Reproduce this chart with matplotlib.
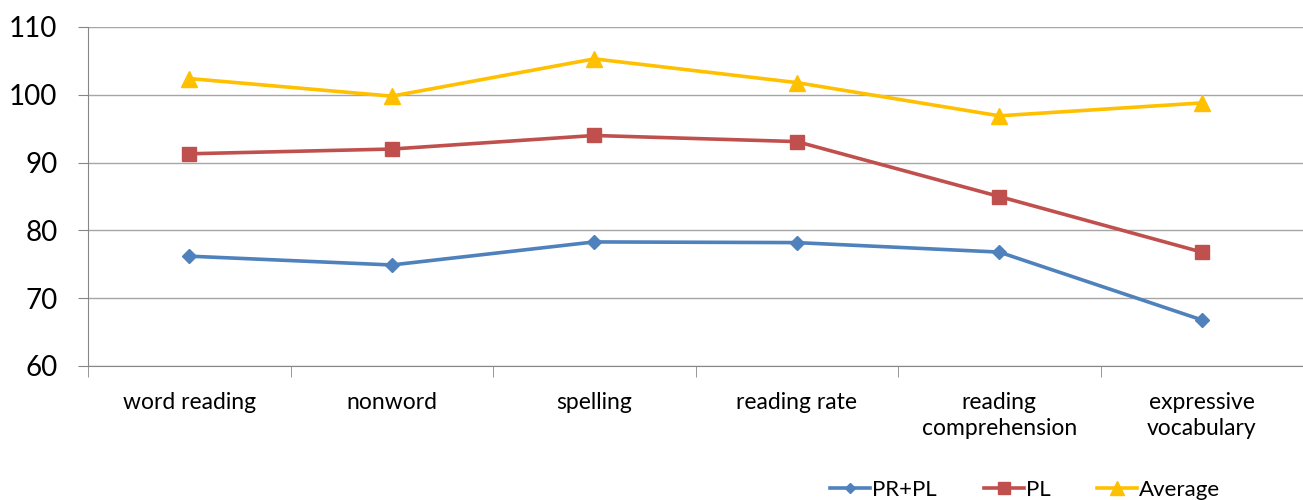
import matplotlib
matplotlib.use("Agg")
import matplotlib.pyplot as plt
import numpy as np

categories = ["word reading", "nonword", "spelling", "reading rate",
              "reading\ncomprehension", "expressive\nvocabulary"]
pr_pl = [76.2, 74.9, 78.3, 78.2, 76.8, 66.8]
pl = [91.3, 92.0, 94.0, 93.1, 85.0, 76.8]
average = [102.4, 99.8, 105.3, 101.8, 96.9, 98.8]

plt.rcParams['font.family'] = ['Lato', 'DejaVu Sans']

fig = plt.figure(figsize=(13.03, 5), dpi=100)
ax = fig.add_axes([88/1303, 1-366/500, 1-88/1303, (366-27)/500])

x = np.arange(len(categories))
ax.plot(x, pr_pl, color='#4F81BD', lw=2.6, marker='D', ms=7, label='PR+PL')
ax.plot(x, pl, color='#C0504D', lw=2.6, marker='s', ms=10, label='PL')
ax.plot(x, average, color='#FFC000', lw=2.6, marker='^', ms=12, label='Average')

ax.set_xlim(-0.5, len(categories) - 0.5)
ax.set_ylim(60, 110)
ax.set_yticks(range(60, 111, 10))
ax.tick_params(axis='y', labelsize=20, length=7, color='#868686', pad=15)
ax.set_xticks(x)
ax.set_xticklabels(categories, fontsize=16.5, linespacing=1.3)
ax.set_xticks(np.arange(-0.5, len(categories)), minor=True)
ax.tick_params(axis='x', which='major', length=0, pad=19)
ax.tick_params(axis='x', which='minor', length=8, color='#868686')

ax.grid(axis='y', color='#A6A6A6', lw=1)
ax.set_axisbelow(True)
for s in ['top', 'right']:
    ax.spines[s].set_visible(False)
ax.spines['left'].set_color('#868686')
ax.spines['bottom'].set_color('#868686')

fig.legend(loc='lower right', ncol=3, frameon=False, fontsize=16,
           bbox_to_anchor=(0.952, -0.04), handlelength=1.8, handletextpad=0.1,
           columnspacing=2.1, markerscale=0.8)

fig.savefig("out.png", dpi=100)
